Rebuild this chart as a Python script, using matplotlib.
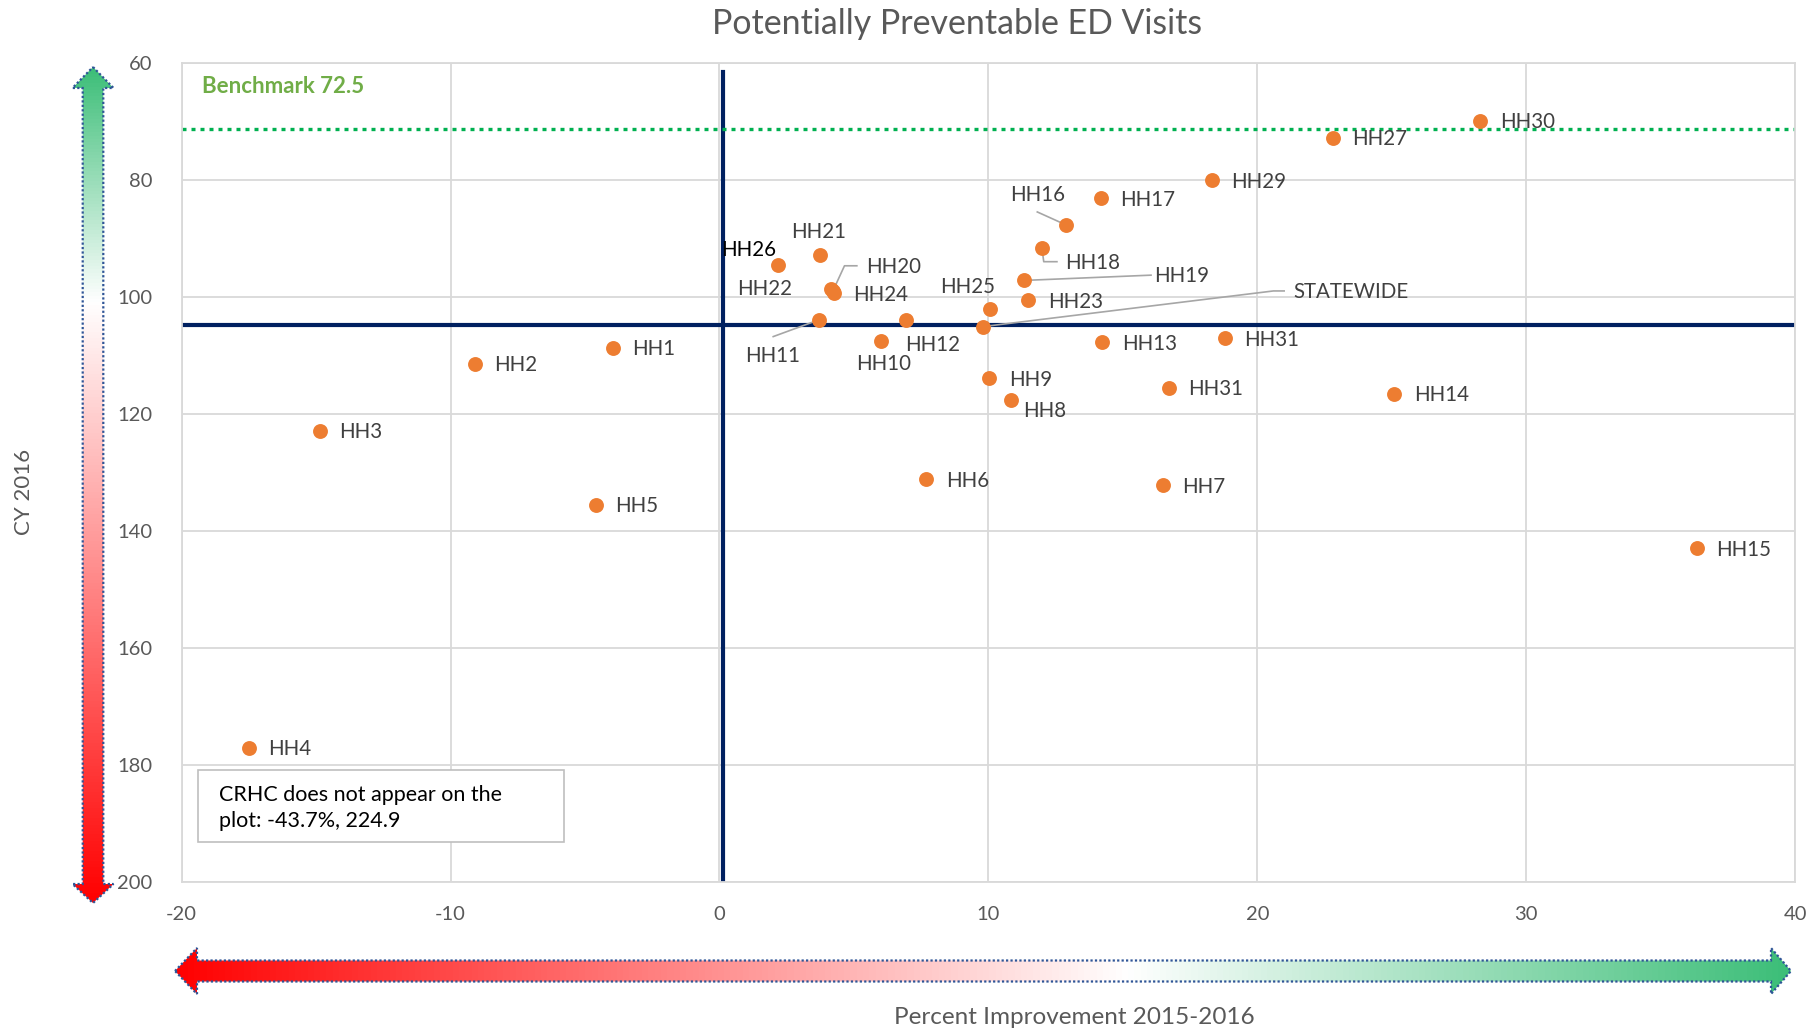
from matplotlib import pyplot as plt
from matplotlib.colors import LinearSegmentedColormap
from matplotlib.patches import Polygon, Rectangle
import numpy as np

plt.rcParams['font.family'] = ['Lato', 'DejaVu Sans']
plt.rcParams['axes.unicode_minus'] = False

# datos
hh_names = ["HH1", "HH2", "HH3", "HH4", "HH5", "HH6", "HH7", "HH8", "HH9", "HH10",
            "HH11", "HH12", "HH13", "HH14", "HH15", "HH16", "HH17", "HH18", "HH19", "HH20",
            "HH21", "HH22", "HH23", "HH24", "HH25", "HH26", "HH27", "HH29", "HH30", "HH31",
            "HH31", "STATEWIDE"]
improvement = [-3.96, -9.1, -14.85, -17.5, -4.6, 7.7, 16.5, 10.84, 10.04, 5.99,
               3.72, 6.94, 14.24, 25.1, 36.35, 12.88, 14.18, 11.99, 11.34, 4.22,
               3.73, 4.16, 11.49, 4.25, 10.07, 2.19, 22.8, 18.3, 28.3, 18.8,
               16.7, 9.79]
cy2016 = [108.7, 111.5, 122.9, 177.1, 135.5, 131.2, 132.2, 117.6, 113.9, 107.5,
          103.9, 104.0, 107.8, 116.6, 143.0, 87.7, 83.2, 91.6, 97.2, 99.0,
          92.8, 98.6, 100.6, 99.4, 102.0, 94.5, 72.8, 80.1, 69.9, 107.1,
          115.6, 105.1]
benchmark = 71.3
x_ticks = [-20, -10, 0, 10, 20, 30, 40]
y_ticks = [60, 80, 100, 120, 140, 160, 180, 200]

# etiquetas que no van a la derecha del punto: (x, y, ha)
label_pos = {
    "HH16": (11.82, 82.6, 'center'),
    "HH18": (12.84, 94.3, 'left'),
    "HH19": (16.18, 96.5, 'left'),
    "STATEWIDE": (21.33, 99.2, 'left'),
    "HH20": (5.44, 94.9, 'left'),
    "HH22": (2.72, 98.6, 'right'),
    "HH21": (3.68, 88.9, 'center'),
    "HH26": (1.1, 92.0, 'center'),
    "HH25": (9.23, 98.4, 'center'),
    "HH11": (1.98, 110.1, 'center'),
    "HH12": (6.91, 108.2, 'left'),
    "HH10": (6.1, 111.5, 'center'),
    "HH8": (11.3, 119.6, 'left'),
}
# lineas guia (desde el punto)
leaders = {
    "HH16": [(11.82, 85.5)],
    "HH18": [(12.06, 94.0), (12.55, 94.0)],
    "HH19": [(16.05, 96.3)],
    "STATEWIDE": [(20.6, 99.0), (21.0, 99.0)],
    "HH20": [(4.65, 94.7), (5.11, 94.7)],
    "HH11": [(2.0, 106.8)],
}

W, H = 1809, 1030
fig = plt.figure(figsize=(W / 100, H / 100), dpi=100)
ax = fig.add_axes([0.1004, 0.1437, 0.8919, 0.7954])

ax.set_xlim(-20, 40)
ax.set_ylim(200, 60)
ax.set_xticks(x_ticks)
ax.set_yticks(y_ticks)
ax.grid(color='#D9D9D9', lw=1.3)
ax.set_axisbelow(True)
for s in ax.spines.values():
    s.set_color('#D9D9D9')
    s.set_linewidth(1.3)
ax.tick_params(length=0, labelsize=14.5, labelcolor='#595959')
ax.tick_params(axis='x', pad=17)
ax.tick_params(axis='y', pad=21)

# cuadrantes
ax.plot([-20, 40], [104.8, 104.8], color='#002060', lw=3, zorder=2)
ax.plot([0.12, 0.12], [61.5, 200], color='#002060', lw=3, zorder=2)
ax.axhline(benchmark, color='#00B050', lw=2.4, dashes=(1.2, 1.5), zorder=2)
ax.text(-19.26, 64.0, 'Benchmark 72.5', color='#70AD47', fontsize=16,
        fontweight='bold', va='center', ha='left')

ax.scatter(improvement, cy2016, s=115, color='#ED7D31', linewidths=0, zorder=4)

for name, x, y in zip(hh_names, improvement, cy2016):
    col = 'black' if name == "HH26" else '#404040'
    if name in label_pos:
        tx, ty, ha = label_pos[name]
        ax.text(tx, ty, name, fontsize=14.8, color=col, ha=ha, va='center', zorder=5)
    else:
        ax.annotate(name, (x, y), xytext=(14, -1), textcoords='offset points',
                    fontsize=14.8, color=col, ha='left', va='center', zorder=5)
    if name in leaders:
        pts = [(x, y)] + leaders[name]
        ax.plot([p[0] for p in pts], [p[1] for p in pts], color='#A6A6A6', lw=1.2, zorder=3)

ax.add_patch(Rectangle((-19.38, 180.9), 13.6, 12.2, facecolor='white',
                       edgecolor='#BFBFBF', lw=1.2, zorder=6))
ax.text(-18.6, 187.4, 'CRHC does not appear on the\nplot: -43.7%, 224.9', fontsize=15.5,
        color='black', va='center', ha='left', linespacing=1.35, zorder=7)

fig.text(957 / W, 1 - 24 / H, 'Potentially Preventable ED Visits', fontsize=24.4,
         color='#595959', ha='center', va='center')
fig.text(24 / W, 1 - 492 / H, 'CY 2016', fontsize=16, color='#595959',
         rotation=90, ha='center', va='center')
fig.text(1074 / W, 1 - 1017 / H, 'Percent Improvement 2015-2016', fontsize=17.5,
         color='#595959', ha='center', va='center')

# flechas con degradado
ov = fig.add_axes([0, 0, 1, 1])
ov.set_xlim(0, W)
ov.set_ylim(H, 0)
ov.axis('off')
ov.patch.set_alpha(0)

green, red = '#3CBE78', '#FF0000'


def flecha(pts, cmap, vertical):
    pts = np.array(pts)
    poly = Polygon(pts, closed=True, facecolor='none', edgecolor='#2F5597',
                   lw=1.6, linestyle=(0, (1, 1)), zorder=3)
    ov.add_patch(poly)
    grad = np.linspace(0, 1, 256)
    img = grad.reshape(-1, 1) if vertical else grad.reshape(1, -1)
    x0, x1 = pts[:, 0].min(), pts[:, 0].max()
    y0, y1 = pts[:, 1].min(), pts[:, 1].max()
    im = ov.imshow(img, cmap=cmap, extent=(x0, x1, y1, y0), aspect='auto',
                   origin='upper', zorder=2)
    clip = Polygon(pts, closed=True, transform=ov.transData)
    im.set_clip_path(clip)


cx = 93
vpts = [(cx, 67), (cx + 20.5, 88), (cx + 10.3, 88), (cx + 10.3, 884), (cx + 20.5, 884),
        (cx, 903), (cx - 20.5, 884), (cx - 10.3, 884), (cx - 10.3, 88), (cx - 20.5, 88)]
vmap = LinearSegmentedColormap.from_list('v', [(0, green), (0.28, 'white'), (1, red)])
flecha(vpts, vmap, True)

cy = 971
hpts = [(175, cy), (197, cy - 23), (197, cy - 10.5), (1771, cy - 10.5), (1771, cy - 23),
        (1791, cy), (1771, cy + 23), (1771, cy + 10.5), (197, cy + 10.5), (197, cy + 23)]
hmap = LinearSegmentedColormap.from_list('h', [(0, red), (0.59, 'white'), (1, green)])
flecha(hpts, hmap, False)

ov.set_xlim(0, W)
ov.set_ylim(H, 0)

fig.savefig('out.png', dpi=100)
